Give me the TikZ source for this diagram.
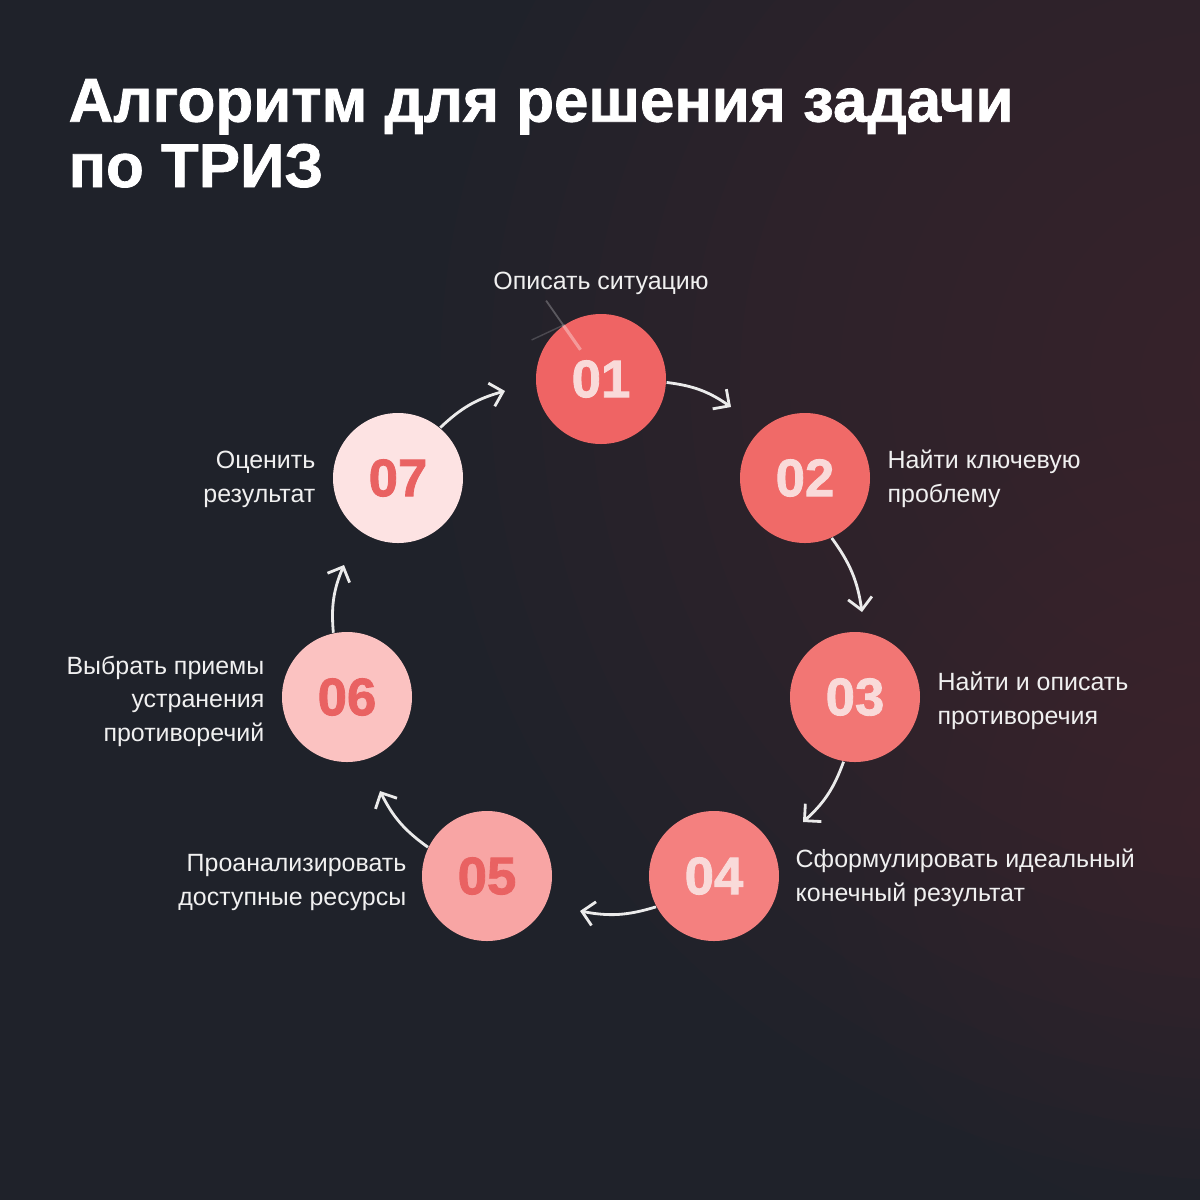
\documentclass[tikz,border=0pt]{standalone}
\usepackage{fontspec}
\setmainfont{Liberation Sans}
\newfontfamily\numfont[FakeBold=1.6]{Liberation Sans Bold}
\newfontfamily\titlefont[FakeBold=1.2]{Liberation Sans Bold}
\usetikzlibrary{arrows.meta}
\definecolor{bg}{HTML}{1F222A}
\definecolor{glow}{HTML}{5A3038}
\definecolor{cA}{HTML}{EF6464}
\definecolor{cB}{HTML}{F06A68}
\definecolor{cC}{HTML}{F27674}
\definecolor{cD}{HTML}{F4807F}
\definecolor{cE}{HTML}{F8A5A4}
\definecolor{cF}{HTML}{FBC2C1}
\definecolor{cG}{HTML}{FDE3E3}
\definecolor{numlight}{HTML}{F9DAD9}
\definecolor{numred}{HTML}{E96262}
\definecolor{txt}{HTML}{F0F0F0}
\begin{document}
\begin{tikzpicture}[
  stepcircle/.style={circle, minimum size=1.3cm, inner sep=0pt,
    font=\fontsize{15}{15}\numfont},
  lightnum/.style={text=numlight},
  rednum/.style={text=numred},
  lbl/.style={text=txt, inner sep=0pt, font=\fontsize{7.1}{9.5}\selectfont},
  flow/.style={draw=white!92!black, line width=0.8pt,
    -{Straight Barb[length=1.2mm,width=2.4mm,line width=0.8pt]}, bend left=14}
]
\useasboundingbox (0,0) rectangle (12,-12);
\fill[bg] (0,0) rectangle (12,-12);
\begin{scope}
  \clip (0,0) rectangle (12,-12);
  \foreach \r in {8,7.5,...,0.5} {
    \fill[glow, opacity=0.045] (12.4,-3.8) circle (\r);
  }
  \foreach \r in {4,3.6,...,0.4} {
    \fill[glow, opacity=0.03] (12.2,-8.2) circle (\r);
  }
\end{scope}

% title
\node[anchor=base west, align=left, inner sep=0pt, text=white,
  font=\fontsize{17.6}{18.6}\titlefont] (title) at (0.68,-1.87)
  {Алгоритм для решения задачи\\по ТРИЗ};

% circles
\node[stepcircle, fill=cA, lightnum] (c1) at (6.01,-3.79) {01};
\node[stepcircle, fill=cB, lightnum] (c2) at (8.05,-4.78) {02};
\node[stepcircle, fill=cC, lightnum] (c3) at (8.55,-6.97) {03};
\node[stepcircle, fill=cD, lightnum] (c4) at (7.14,-8.76) {04};
\node[stepcircle, fill=cE, rednum] (c5) at (4.87,-8.76) {05};
\node[stepcircle, fill=cF, rednum] (c6) at (3.47,-6.97) {06};
\node[stepcircle, fill=cG, rednum] (c7) at (3.98,-4.78) {07};

% glint on 01
\draw[white, opacity=0.25, line width=0.5pt] (c1.125) -- ++(125:0.3);
\draw[white, opacity=0.18, line width=0.4pt] (c1.125) -- ++(205:0.35);
\draw[white, opacity=0.35, line width=0.9pt] (c1.125) -- ++(-55:0.3);

% arrow tips
\coordinate (t2) at (7.31,-4.07);
\coordinate (t3) at (8.62,-6.12);
\coordinate (t4) at (8.03,-8.22);
\coordinate (t5) at (5.80,-9.11);
\coordinate (t6) at (3.80,-7.91);
\coordinate (t7) at (3.44,-5.65);
\coordinate (t1) at (5.05,-3.91);

\draw[flow] (c1.-3) to (t2);
\draw[flow] (c2.-66) to (t3);
\draw[flow] (c3.-100) to (t4);
\draw[flow] (c4.-152) to (t5);
\draw[flow] (c5.154) to (t6);
\draw[flow] (c6.102) to (t7);
\draw[flow] (c7.50) to (t1);

% labels (base anchor = last line)
\node[lbl, anchor=base] (l1) at (6.01,-2.89) {Описать ситуацию};
\node[lbl, anchor=base west, align=left] (l2) at (8.87,-5.02) {Найти ключевую\\проблему};
\node[lbl, anchor=base west, align=left] (l3) at (9.37,-7.24) {Найти и описать\\противоречия};
\node[lbl, anchor=base west, align=left] (l4) at (7.95,-9.01) {Сформулировать идеальный\\конечный результат};
\node[lbl, anchor=base east, align=right] (l5) at (4.07,-9.05) {Проанализировать\\доступные ресурсы};
\node[lbl, anchor=base east, align=right] (l6) at (2.65,-7.41) {Выбрать приемы\\устранения\\противоречий};
\node[lbl, anchor=base east, align=right] (l7) at (3.16,-5.02) {Оценить\\результат};
\end{tikzpicture}
\end{document}
